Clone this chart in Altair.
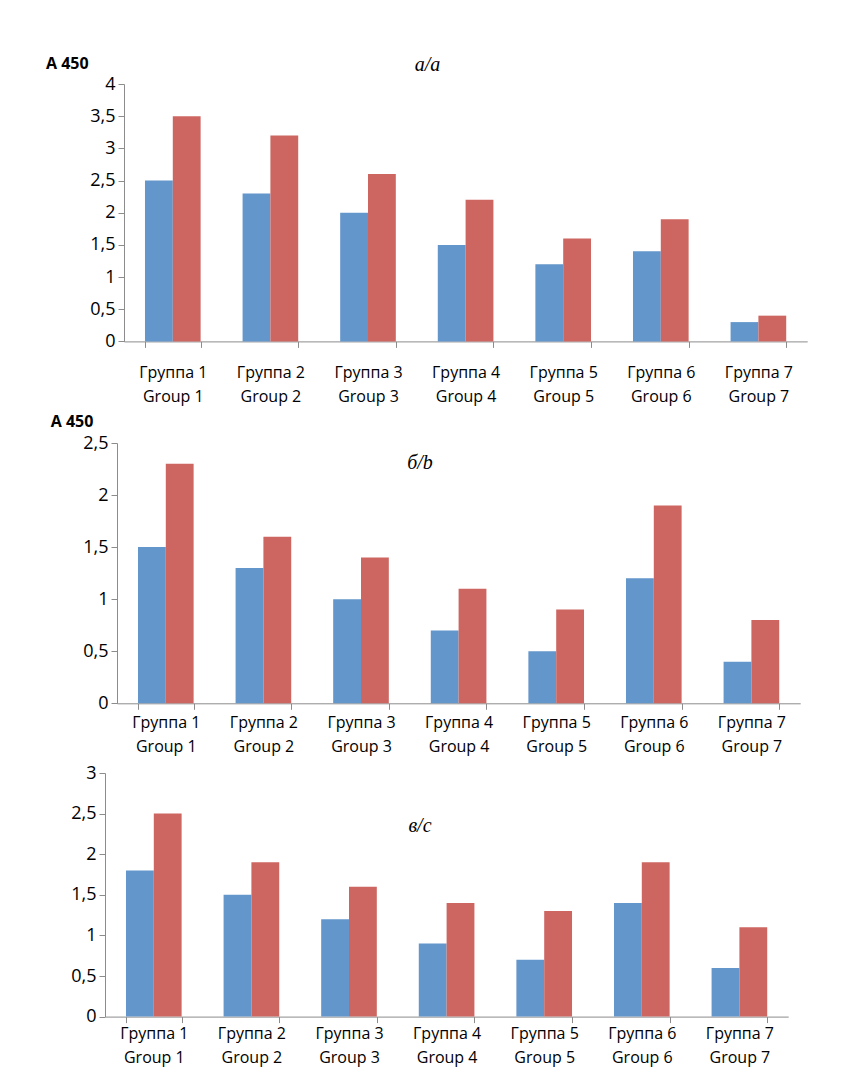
import altair as alt
import pandas as pd

groups_ru = ["Группа 1", "Группа 2", "Группа 3", "Группа 4", "Группа 5", "Группа 6", "Группа 7"]
groups_en = ["Group 1", "Group 2", "Group 3", "Group 4", "Group 5", "Group 6", "Group 7"]
series = ["s1", "s2"]
colors = ["#6396CB", "#CD6661"]

a_blue = [2.5, 2.3, 2.0, 1.5, 1.2, 1.4, 0.3]
a_red = [3.5, 3.2, 2.6, 2.2, 1.6, 1.9, 0.4]
b_blue = [1.5, 1.3, 1.0, 0.7, 0.5, 1.2, 0.4]
b_red = [2.3, 1.6, 1.4, 1.1, 0.9, 1.9, 0.8]
c_blue = [1.8, 1.5, 1.2, 0.9, 0.7, 1.4, 0.6]
c_red = [2.5, 1.9, 1.6, 1.4, 1.3, 1.9, 1.1]

a_ticks = [0, 0.5, 1, 1.5, 2, 2.5, 3, 3.5, 4]
b_ticks = [0, 0.5, 1, 1.5, 2, 2.5]
c_ticks = [0, 0.5, 1, 1.5, 2, 2.5, 3]

titles = ["а/a", "б/b", "в/c"]
ylabel = "A 450"

FONT = "Open Sans"
AX = "#8C8C8C"
STEP = 97.6
PW = STEP * 7
W = PW + 19

cats = [ru + "|" + en for ru, en in zip(groups_ru, groups_en)]


def make_df(blue, red):
    rows = []
    for cat, b, r in zip(cats, blue, red):
        rows.append({"cat": cat, "series": series[0], "value": b})
        rows.append({"cat": cat, "series": series[1], "value": r})
    return pd.DataFrame(rows)


def panel(blue, red, ticks, height, shift, title, txy, lpad, axy=None):
    df = make_df(blue, red)
    bars = alt.Chart(df).mark_bar().encode(
        x=alt.X(
            "cat:N", sort=cats, title=None,
            scale=alt.Scale(range=[shift, shift + PW], paddingInner=0.43, paddingOuter=0.215),
            axis=alt.Axis(
                labelAngle=0, labelExpr="split(datum.label, '|')", tickBand="extent",
                labelFont=FONT, labelFontSize=16, labelColor="#000000",
                labelLineHeight=24, labelPadding=lpad, tickSize=6,
                domainColor=AX, tickColor=AX, labelBaseline="top",
            ),
        ),
        xOffset=alt.XOffset("series:N", sort=series),
        y=alt.Y(
            "value:Q", title=None,
            scale=alt.Scale(domain=[0, ticks[-1]], nice=False, zero=True),
            axis=alt.Axis(
                values=ticks, labelExpr="replace(toString(datum.value), '.', ',')",
                grid=False, offset=-shift, labelFont=FONT, labelFontSize=18,
                labelColor="#000000", tickSize=6, labelPadding=3,
                domainColor=AX, tickColor=AX,
            ),
        ),
        color=alt.Color("series:N", scale=alt.Scale(domain=series, range=colors), legend=None),
    )
    layers = [bars]
    tdf = pd.DataFrame({"t": [title]})
    layers.append(
        alt.Chart(tdf).mark_text(
            font="Liberation Serif", fontStyle="italic", fontSize=20,
            align="center", baseline="middle", color="#000000",
        ).encode(x=alt.value(txy[0] + shift), y=alt.value(txy[1]), text="t:N")
    )
    if axy is not None:
        adf = pd.DataFrame({"t": [ylabel]})
        layers.append(
            alt.Chart(adf).mark_text(
                font=FONT, fontWeight="bold", fontSize=16,
                align="left", baseline="middle", color="#000000",
            ).encode(x=alt.value(axy[0] + shift), y=alt.value(axy[1]), text="t:N")
        )
    return alt.layer(*layers).properties(width=W, height=height)


def spacer(h):
    return alt.Chart(pd.DataFrame({"z": [0]})).mark_point(opacity=0, size=1).encode(
        x=alt.value(1), y=alt.value(h / 2)
    ).properties(width=1, height=h)


pa = panel(a_blue, a_red, a_ticks, 257.4, 19, titles[0], (303.5, -19), 17, (-78, -20))
pb = panel(b_blue, b_red, b_ticks, 260.3, 12, titles[1], (303, 20.3), 5, (-66.3, -20.7))
pc = panel(c_blue, c_red, c_ticks, 243.6, 0, titles[2], (315, 53.3), 3)

chart = alt.vconcat(
    spacer(75.3), pa, spacer(101), pb, spacer(68.7), pc,
    spacing=0, bounds="flush",
).properties(
    padding={"left": 38, "top": 0, "right": 5, "bottom": 5}
).configure_view(strokeWidth=0)

chart.save("out.html", embed_options={"renderer": "svg", "actions": False})
